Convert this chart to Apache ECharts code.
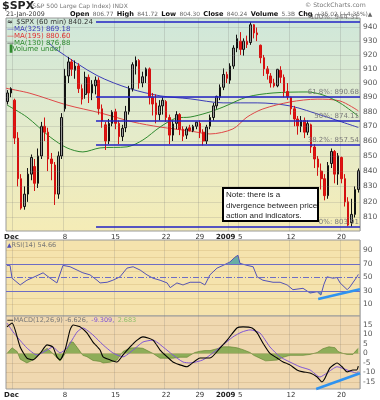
<!DOCTYPE html>
<html><head><meta charset="utf-8">
<script src="https://cdn.jsdelivr.net/npm/echarts@6/dist/echarts.min.js"></script>
<style>html,body{margin:0;padding:0;background:#fff}#c{width:380px;height:400px}</style>
</head><body><div id="c"></div>
<script>
// ---------- DATA ----------
const N = 105; // 60-min bars grouped in 1/3-day slots, Nov 28 .. Jan 21
const dateLabelSlots = [2, 17, 32, 47, 57, 66, 69, 84, 99];
const dateLabelTexts = ['Dec', '8', '15', '22', '29', '2009', '5', '12', '20'];
const priceTicks = [810, 820, 830, 840, 850, 860, 870, 880, 890, 900, 910, 920, 930, 940];
const rsiTicks = [90, 70, 50, 30, 10];
const macdTicks = [15, 10, 5, 0, -5, -10, -15];
const fibLevels = [944.31, 890.68, 874.11, 857.54, 803.91];
const fibNames = ['100%', '61.8%', '50%', '38.2%', '0%'];
const fibStartSlot = 26.7;
// [open, close, low, high]
const candles = [
 [887,893,885,895],[893,896,890,897],
 [888,862,858,889],[862,835,830,866],[835,816,815,838],
 [817,825,815,830],[825,838,820,842],[838,849,834,851],
 [843,832,827,848],[832,850,829,855],[850,870,848,873],
 [870,866,860,876],[866,848,840,869],[848,845,834,852],
 [844,825,818,846],[825,850,822,853],[850,876,848,879],
 [882,905,880,910],[905,915,900,918.6],[915,909.7,905,917],
 [909,912,903,916],[912,896,893,914],[896,888.7,885,899],
 [892,904,889,908],[904,893,886,906],[893,899,888,902],
 [898,902,892,904.6],[902,882,878,904],[882,873.6,869,885],
 [871,860,854,873],[860,872,858,875],[872,879.7,870,881],
 [880,872,868,882],[872,863,858,874],[863,868.6,860,871],
 [869,880,866,884],[880,896,878,898],[896,913,894,914.7],
 [912,916,906,918.9],[916,900,896,917],[900,904.4,897,908],
 [905,910,900,911],[910,890,885,911],[890,885.3,877.4,893],
 [886,878,872,892],[878,884,874,888],[884,887.9,878,890],
 [887,876,873,888],[876,864,858,878],[864,871.6,860,874],
 [872,878,868,880.4],[878,868,864,879],[868,863.2,860,870],
 [864,868.2,861.4,869.8],
 [869,867,866.5,871],[867,870,866,871],[870,872.8,868,873],
 [872,866,862,874],[866,860,857,868],[860,869.4,858,871],
 [870,876,868,878],[876,884,874,886],[884,890.6,882,891.1],
 [890,897,888,899],[897,906,895,910.3],[906,903.3,900,908],
 [902,912,899.4,914],[912,925,910,927],[925,931.8,922,934.7],
 [930,924,920,936.6],[924,930,919.5,932],[930,927.5,925,934],
 [929,942,927.3,943.9],[942,936,932,942.5],[936,934.7,930,940],
 [927,918,914,927.5],[918,910,905,920],[910,906.7,902.4,912],
 [905,900,896.8,907],[900,898,896.8,903],[898,909.7,897,910],
 [909,904,900,911.9],[904,894,890,906],[894,890.4,888.3,900],
 [890,882,878,890.4],[882,875,870,884],[875,870.3,864.3,877],
 [870,874,866,877],[874,866,862,876],[866,871.8,864,874],
 [871,856,852,871.8],[856,848,842,858],[848,842.6,836.9,850],
 [840,835,828,845],[835,824,821,838],[824,843.7,822,846],
 [845,853,842,855],[853,838,832,854],[838,850.1,831,852],
 [849,835,832,849.6],[835,820,817,838],[820,805.2,804.5,823],
 [806.8,812,804.3,822],[812,828,810,830],[828,840.2,826,841.7]
];
// moving averages [slot, value]
const ma325 = [[12.5,929.3],[15.1,923.6],[27.0,905.3],[36.8,896.0],[45.7,891.0],[54.6,888.9],[64.4,886.1],[74.5,886.1],[84.2,884.0],[94.0,877.2],[104.5,869.2]];
const ma195 = [[0,896.3],[7.1,892.8],[18.1,884.6],[27.9,879.2],[37.7,872.9],[45.7,869.5],[54.6,866.8],[60.5,864.8],[67.3,868.2],[71.5,876.3],[76.2,881.9],[84.2,886.7],[92.3,888.7],[99.1,887.4],[104.5,880.6]];
const ma130 = [[0.3,884.6],[6.2,876.3],[13.1,862.7],[18.1,855.4],[22.8,852.7],[27.9,855.4],[35.9,856.1],[40.6,860.7],[45.7,869.5],[50.7,875.7],[54.6,876.3],[59.6,879.2],[64.4,883.2],[71.5,890.2],[79.2,893.0],[89.3,893.7],[94.0,891.6],[99.1,886.0],[104.5,876.9]];
const rsi = [[0.3,68],[1.2,68],[1.8,49],[4.2,39],[6.2,46],[8.0,50],[11.0,57],[13.1,49],[15.1,42],[16.9,68],[19.0,66],[21.1,61],[22.8,57],[24.9,54],[27.0,46],[27.9,42],[30.0,43],[31.7,46],[33.8,51],[35.9,64],[37.7,66],[39.8,61],[41.8,54],[43.6,49],[45.7,46],[47.8,42],[48.7,35],[50.7,42],[52.5,39],[54.6,43],[57.6,43],[59.0,39],[60.5,54],[62.6,64],[64.4,68],[66.4,73],[67.9,80],[68.8,83],[69.4,71],[71.5,68],[73.3,66],[74.5,51],[76.2,46],[79.2,43],[81.3,43],[83.4,39],[85.1,32],[88.1,34],[90.2,27],[92.3,29],[93.4,24],[94.3,40],[95.2,51],[97.0,49],[98.2,50],[99.1,42],[101.2,32],[102.0,36],[104.1,51],[104.5,54.66]];
const rsiOverbought = [[65.6,70],[66.4,73],[67.9,80],[68.8,83],[69.4,71],[70.1,70]];
const rsiOversold = [[89.3,30],[90.2,27],[92.3,29],[93.4,24],[93.7,30]];
const macd = [[0.3,14],[1.8,16],[4.2,3.4],[6.2,-2.4],[8.0,-3.4],[10.1,0],[12.2,4.5],[13.9,3.4],[15.1,-1.8],[16.0,-3.4],[17.5,1.8],[19.0,12.4],[19.9,15],[21.1,14.5],[22.0,14],[24.0,10.8],[25.8,6],[27.9,1.8],[28.8,-1.8],[30.9,-3.4],[32.9,-4.5],[34.7,-0.8],[36.8,3.4],[38.9,7],[40.6,8.7],[43.6,7],[45.7,1.8],[47.8,-1.8],[49.5,-4.5],[51.6,-6],[53.7,-7],[54.6,-6],[57.6,-2.4],[60.5,-2.4],[63.5,2.9],[65.6,7],[68.5,13.4],[70.3,14],[73.0,13.4],[74.5,10.8],[76.2,5.5],[78.3,0],[80.4,-2.4],[82.2,-4.5],[84.2,-6],[86.3,-8.7],[88.1,-9.7],[90.2,-10.3],[92.3,-12.4],[93.7,-15],[94.6,-13],[96.1,-7.6],[98.2,-5],[99.7,-7],[101.2,-9.7],[102.9,-8.7],[104.0,-8.7],[104.5,-6.626]];
const macdSignal = [[0.3,16],[2.1,11.3],[6.2,2.9],[9.2,-0.8],[12.2,1.8],[13.9,3.4],[16.0,0.3],[18.1,2.9],[21.1,11.3],[22.8,13.4],[25.8,9.7],[28.8,4.5],[31.7,0.3],[34.7,-1.8],[37.7,1.8],[40.6,6],[43.6,7],[46.6,3.4],[49.5,-0.8],[52.5,-4.5],[54.6,-5],[58.4,-3.4],[61.4,0.3],[64.4,4.5],[67.3,8.7],[70.0,11.3],[72.4,12.4],[75.3,10.8],[78.3,3.4],[81.3,-1.8],[84.2,-4.5],[87.2,-7],[90.2,-8.7],[93.1,-12.4],[95.2,-10.3],[98.2,-7],[101.2,-8.7],[104.0,-10.3],[104.5,-9.309]];
const macdHist = [[0.3,0],[1.8,3],[3.3,1],[4.2,-3],[6.2,-5],[8.0,-3.4],[10.1,0.3],[12.2,2.7],[13.9,0],[16.0,-4],[17.5,-0.2],[19.0,6],[19.9,6],[21.1,3.2],[22.8,-1],[24.0,-1.7],[25.8,-3.7],[27.9,-4.2],[28.8,-5],[30.9,-4.6],[32.9,-3.5],[34.7,1],[36.8,2.9],[38.9,3],[40.6,2.7],[43.6,0],[45.7,-2.5],[47.8,-2.5],[49.5,-2.5],[51.6,-2],[53.7,-2],[54.6,-1],[56,0.5],[57.6,1.2],[59.0,1.5],[60.5,1.5],[62.6,2.5],[64.4,3.5],[66.4,3.5],[68.5,3],[70.3,2],[72.4,0.5],[73.5,-1],[75.3,-2.5],[77.0,-3.9],[80.4,-3.5],[82.2,-2],[84.2,-1],[86.3,-1],[88.1,-1],[90.2,-0.5],[92.3,0.5],[94.0,2.5],[95.8,3.5],[97.6,3],[98.5,1],[100,0],[101.2,-0.5],[102.9,-0.5],[103.8,1.5],[104.5,2.683]];
// annotation trend lines [[slot, value],[slot, value]]
const priceTrend = [[92.6, 821.8], [105, 799.3]];
const rsiTrend = [[92.6, 18.1], [105, 32.7]];
const macdTrend = [[92.0, -18.7], [105, -10.4]];

// ---------- CHART ----------
const FONT = '"DejaVu Sans", Verdana, sans-serif';
const slotIdx = Array.from({length: N}, (_, i) => String(i));
const isLabelSlot = i => dateLabelSlots.indexOf(i) >= 0;
function catAxis(gi, showLabels) {
  return {
    type: 'category', gridIndex: gi, data: slotIdx, boundaryGap: true,
    axisLine: {show: false}, axisTick: {show: false},
    axisLabel: {
      show: showLabels, interval: (i) => isLabelSlot(i), margin: 3,
      fontSize: 7, color: '#333', fontFamily: FONT,
      formatter: (v) => { const k = dateLabelSlots.indexOf(Number(v)); const t = dateLabelTexts[k];
        if (t === 'Dec') return '{d|' + t + '}';
        if (t === '2009') return '{y|' + t + '}';
        return t; },
      rich: {
        d: {fontWeight: 'bold', fontSize: 7, color: '#222', fontFamily: FONT, padding: [0, 6, 0, 0]},
        y: {fontWeight: 'bold', fontSize: 7, color: '#222', fontFamily: FONT, padding: [0, 9, 0, 0]}
      }
    },
    splitLine: {show: true, interval: (i) => isLabelSlot(i), lineStyle: {color: 'rgba(120,120,120,0.22)', width: 1}}
  };
}
function valAxis(gi) { return {type: 'value', gridIndex: gi, min: 0, max: N, show: false}; }
function tickLines(ticks, xi, yi, color, labelFmt) {
  return {
    type: 'line', xAxisIndex: xi, yAxisIndex: yi, data: [], z: 1, silent: true,
    markLine: {symbol: 'none', silent: true, animation: false,
      lineStyle: {color: color, width: 1, type: 'solid'},
      label: {show: true, position: 'end', distance: 3, color: '#555', fontSize: 7.5, fontFamily: FONT,
        formatter: labelFmt || ((p) => String(p.value))},
      data: ticks.map(v => ({yAxis: v}))}
  };
}
function segLine(seg, xi, yi, color, width, z) {
  return {type: 'line', xAxisIndex: xi, yAxisIndex: yi, data: [], z: z, silent: true,
    markLine: {symbol: 'none', silent: true, animation: false, label: {show: false},
      lineStyle: {color: color, width: width, type: 'solid'},
      data: [[{coord: seg[0]}, {coord: seg[1]}]]}};
}
const grids = [
  {left: 6, top: 18, width: 354, height: 213, show: true, borderColor: '#9a9a9a', borderWidth: 1,
   backgroundColor: {type: 'linear', x: 0, y: 0, x2: 0, y2: 1,
     colorStops: [{offset: 0, color: '#cfe7da'}, {offset: 0.5, color: '#e3ebcc'}, {offset: 1, color: '#f5ecb6'}]}},
  {left: 6, top: 240, width: 354, height: 76, show: true, borderColor: '#9a9a9a', borderWidth: 1, backgroundColor: '#f5e3ad'},
  {left: 6, top: 316, width: 354, height: 73, show: true, borderColor: '#9a9a9a', borderWidth: 1, backgroundColor: '#f0d8b0'}
];
const option = {
  animation: false,
  grid: grids,
  xAxis: [catAxis(0, true), valAxis(0), catAxis(1, false), valAxis(1), catAxis(2, true), valAxis(2)],
  yAxis: [
    {type: 'log', gridIndex: 0, min: 801.5, max: 947, show: false, splitLine: {show: false}},
    {type: 'value', gridIndex: 1, min: -7, max: 105.6, show: false, splitLine: {show: false}},
    {type: 'value', gridIndex: 2, min: -18.7, max: 19.7, show: false, splitLine: {show: false}}
  ],
  series: [
    tickLines(priceTicks, 1, 0, 'rgba(120,120,120,0.2)'),
    {type: 'line', name: 'MA(325)', xAxisIndex: 1, yAxisIndex: 0, data: ma325, showSymbol: false, smooth: 0.3, z: 2,
     lineStyle: {color: '#3b3bb8', width: 1}},
    {type: 'line', name: 'MA(195)', xAxisIndex: 1, yAxisIndex: 0, data: ma195, showSymbol: false, smooth: 0.3, z: 2,
     lineStyle: {color: '#e04848', width: 1}},
    {type: 'line', name: 'MA(130)', xAxisIndex: 1, yAxisIndex: 0, data: ma130, showSymbol: false, smooth: 0.3, z: 2,
     lineStyle: {color: '#2f8a2f', width: 1}},
    {type: 'candlestick', xAxisIndex: 0, yAxisIndex: 0, data: candles, barWidth: '62%', z: 3,
     itemStyle: {color: '#9a9a9a', color0: '#e3140f', borderColor: '#111', borderColor0: '#d41010', borderWidth: 1}},
    {type: 'line', xAxisIndex: 1, yAxisIndex: 0, data: [], z: 4, silent: true,
     markLine: {symbol: 'none', silent: true, animation: false,
       lineStyle: {color: '#2222c4', width: 1.6, type: 'solid'},
       label: {show: true, position: 'insideEndTop', distance: 1, color: '#7a7a7a', fontSize: 7, fontFamily: FONT,
         formatter: (p) => p.name},
       data: fibLevels.map((v, i) => [{coord: [fibStartSlot, v], name: fibNames[i] + ': ' + v.toFixed(2)}, {coord: [N, v]}])}},
    segLine(priceTrend, 1, 0, '#ff3d9a', 2, 6),
    // RSI
    tickLines([10, 20, 40, 60, 80, 90], 3, 1, 'rgba(170,130,60,0.18)', (p) => (p.value === 20 || p.value === 40 || p.value === 60 || p.value === 80) ? '' : String(p.value)),
    {type: 'line', xAxisIndex: 3, yAxisIndex: 1, data: [], z: 2, silent: true,
     markLine: {symbol: 'none', silent: true, animation: false,
       label: {show: true, position: 'end', distance: 3, color: '#555', fontSize: 7.5, fontFamily: FONT},
       data: [
         {yAxis: 70, lineStyle: {color: '#6d6dc4', width: 1, type: 'solid'}},
         {yAxis: 50, lineStyle: {color: '#6d6dc4', width: 1, type: [6, 2, 1, 2]}},
         {yAxis: 30, lineStyle: {color: '#6d6dc4', width: 1, type: 'solid'}}
       ]}},
    {type: 'line', xAxisIndex: 3, yAxisIndex: 1, data: rsiOverbought, showSymbol: false, z: 3,
     lineStyle: {width: 0}, areaStyle: {origin: 70, color: '#5aa7a3', opacity: 0.9}},
    {type: 'line', xAxisIndex: 3, yAxisIndex: 1, data: rsiOversold, showSymbol: false, z: 3,
     lineStyle: {width: 0}, areaStyle: {origin: 30, color: '#5aa7a3', opacity: 0.9}},
    {type: 'line', name: 'RSI(14)', xAxisIndex: 3, yAxisIndex: 1, data: rsi, showSymbol: false, z: 4,
     lineStyle: {color: '#5252b8', width: 1}},
    segLine(rsiTrend, 3, 1, '#2f93f0', 2.5, 6),
    // MACD
    tickLines(macdTicks, 5, 2, 'rgba(150,110,60,0.18)'),
    {type: 'line', name: 'hist', xAxisIndex: 5, yAxisIndex: 2, data: macdHist, showSymbol: false, z: 2,
     lineStyle: {color: '#5a7f2a', width: 0.6}, areaStyle: {color: '#7da64a', opacity: 0.85}},
    {type: 'line', name: 'signal', xAxisIndex: 5, yAxisIndex: 2, data: macdSignal, showSymbol: false, smooth: 0.2, z: 3,
     lineStyle: {color: '#8157d6', width: 1}},
    {type: 'line', name: 'MACD', xAxisIndex: 5, yAxisIndex: 2, data: macd, showSymbol: false, smooth: 0.2, z: 4,
     lineStyle: {color: '#000', width: 1.1}},
    segLine(macdTrend, 5, 2, '#2f93f0', 2.5, 6)
  ],
  graphic: [
    {type: 'text', z: 10, style: {x: 2, y: 6, text: '$SPX', font: 'bold 11px ' + FONT, fill: '#222', verticalAlign: 'middle'}},
    {type: 'text', z: 10, style: {x: 30, y: 6.5, text: '(S&P 500 Large Cap Index) INDX', font: '6px ' + FONT, fill: '#777', verticalAlign: 'middle'}},
    {type: 'text', z: 10, style: {x: 305, y: 5, text: '\u00a9 StockCharts.com', font: '6.2px ' + FONT, fill: '#777', verticalAlign: 'middle'}},
    {type: 'text', z: 10, style: {x: 6, y: 14.5, text: '21-Jan-2009', font: '6.3px ' + FONT, fill: '#333', verticalAlign: 'middle'}},
    {type: 'text', z: 10, style: {x: 70, y: 14.5, verticalAlign: 'middle',
      text: '{b|Open} {v|806.77} {b|High} {v|841.72} {b|Low} {v|804.30} {b|Close} {v|840.24} {b|Volume} {v|5.3B} {b|Chg} {v|+35.02 (+4.35%)\u25b2}',
      rich: {b: {font: 'bold 6.6px ' + FONT, fill: '#111'}, v: {font: '5.9px ' + FONT, fill: '#666'}}}},
    // main legend
    {type: 'text', z: 10, style: {x: 7, y: 22, verticalAlign: 'middle',
      text: '{i|\u2248} {t|$SPX (60 min) 840.24}', rich: {i: {font: 'bold 7px ' + FONT, fill: '#333'}, t: {font: '7px ' + FONT, fill: '#333'}}}},
    {type: 'text', z: 10, style: {x: 7, y: 29.5, text: '\u2014MA(325) 869.18', font: '7px ' + FONT, fill: '#3b3bb8', verticalAlign: 'middle'}},
    {type: 'text', z: 10, style: {x: 7, y: 36.5, text: '\u2014MA(195) 880.60', font: '7px ' + FONT, fill: '#e03030', verticalAlign: 'middle'}},
    {type: 'text', z: 10, style: {x: 7, y: 43, verticalAlign: 'middle', text: '{k|\u2014}{g|MA(130) 876.88}',
      rich: {k: {font: '7px ' + FONT, fill: '#111'}, g: {font: '7px ' + FONT, fill: '#2f8a2f'}}}},
    {type: 'text', z: 10, style: {x: 7, y: 49.5, text: '\u2590Volume undef', font: '7px ' + FONT, fill: '#2f8a2f', verticalAlign: 'middle'}},
    // indicator legends
    {type: 'text', z: 10, style: {x: 7, y: 245, verticalAlign: 'middle', text: '{i|\u25b2}{t|RSI(14) 54.66}',
      rich: {i: {font: '6px ' + FONT, fill: '#5252b8'}, t: {font: '6.5px ' + FONT, fill: '#777'}}}},
    {type: 'text', z: 10, style: {x: 7, y: 320.5, verticalAlign: 'middle', text: '{k|\u2014}{t|MACD(12,26,9) -6.626,} {p|-9.309,} {g|2.683}',
      rich: {k: {font: 'bold 6.5px ' + FONT, fill: '#000'}, t: {font: '6.5px ' + FONT, fill: '#777'},
        p: {font: '6.5px ' + FONT, fill: '#8157d6'}, g: {font: '6.5px ' + FONT, fill: '#8fbf6a'}}}},
    // note box
    {type: 'rect', z: 10, shape: {x: 223, y: 188, width: 95, height: 33}, style: {fill: '#fff', stroke: '#000', lineWidth: 2}},
    {type: 'text', z: 11, style: {x: 226, y: 190, text: 'Note: there is a\ndivergence between price\naction and indicators.',
      font: '8px "Liberation Sans", Arial, sans-serif', lineHeight: 10.3, fill: '#222'}}
  ]
};
const chart = echarts.init(document.getElementById('c'), null, {renderer: 'canvas'});
chart.setOption(option);
</script></body></html>
